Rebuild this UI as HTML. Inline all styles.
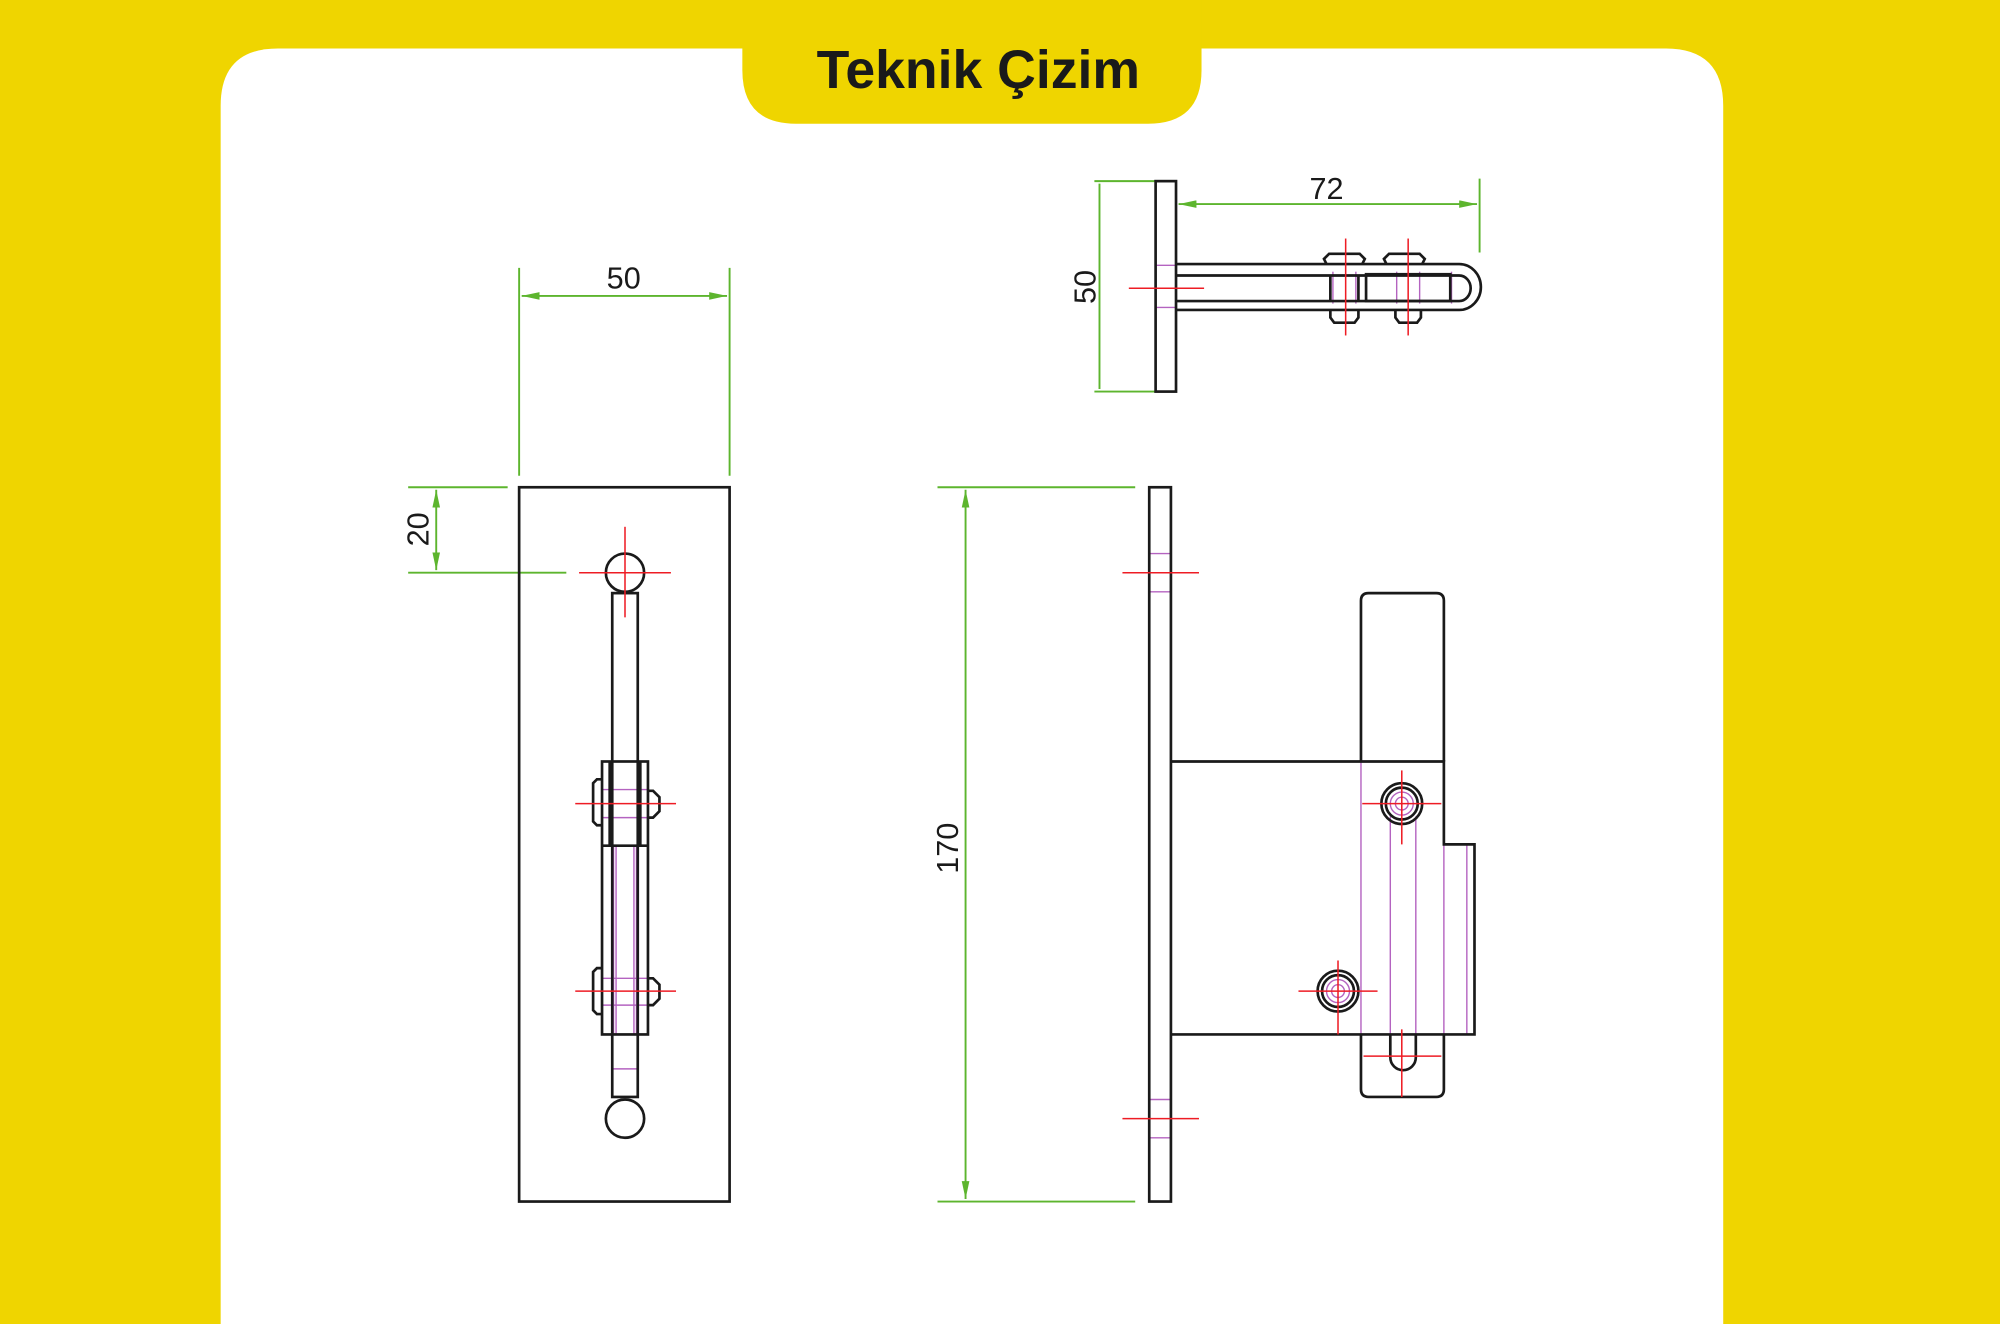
<!DOCTYPE html>
<html><head><meta charset="utf-8"><style>
html,body{margin:0;padding:0;background:#efd500;}
svg{display:block;}
</style></head><body>
<svg width="2000" height="1324" viewBox="0 0 1568 1038" xmlns="http://www.w3.org/2000/svg">
<defs>
<marker id="ar" viewBox="0 0 14 6" refX="14" refY="3" markerWidth="14" markerHeight="6" orient="auto-start-reverse" markerUnits="userSpaceOnUse"><path d="M0,0 L14,3 L0,6 z" fill="#5db52e"/></marker>
</defs>
<rect width="1568" height="1038" fill="#efd500"/>
<path d="M173,1038 V83 Q173,38 218,38 H1306 Q1351,38 1351,83 V1038 Z" fill="#fff"/>
<path d="M582,0 V55 Q582,97 624,97 H900 Q942,97 942,55 V0 Z" fill="#efd500"/>
<text x="767" y="69" text-anchor="middle" font-family="Liberation Sans, sans-serif" font-weight="bold" font-size="42" fill="#1a1a1a">Teknik Çizim</text>

<g fill="none" stroke-width="1.5">
<g stroke="#5db52e">
<line x1="407" y1="210" x2="407" y2="373"/><line x1="572" y1="210" x2="572" y2="373"/>
<line x1="409" y1="232" x2="570" y2="232" marker-start="url(#ar)" marker-end="url(#ar)"/>
<line x1="320" y1="382" x2="398" y2="382"/><line x1="320" y1="449" x2="444" y2="449"/>
<line x1="342" y1="384" x2="342" y2="447" marker-start="url(#ar)" marker-end="url(#ar)"/>
<line x1="858" y1="142" x2="906" y2="142"/><line x1="858" y1="307" x2="906" y2="307"/>
<line x1="862" y1="144" x2="862" y2="305"/>
<line x1="922" y1="145" x2="922" y2="185"/>
<line x1="1160" y1="140" x2="1160" y2="198"/>
<line x1="924" y1="160" x2="1158" y2="160" marker-start="url(#ar)" marker-end="url(#ar)"/>
<line x1="735" y1="382" x2="890" y2="382"/><line x1="735" y1="942" x2="890" y2="942"/>
<line x1="757" y1="384" x2="757" y2="940" marker-start="url(#ar)" marker-end="url(#ar)"/>
</g>

<g stroke="#b463c0" stroke-width="1.1">
<line x1="472" y1="619" x2="508" y2="619"/><line x1="472" y1="641" x2="508" y2="641"/>
<line x1="472" y1="767" x2="508" y2="767"/><line x1="472" y1="788" x2="508" y2="788"/>
<line x1="481" y1="663" x2="481" y2="811"/><line x1="483" y1="663" x2="483" y2="811"/>
<line x1="497" y1="663" x2="497" y2="811"/><line x1="499" y1="663" x2="499" y2="811"/>
<line x1="481" y1="838" x2="499" y2="838"/>
<line x1="906" y1="208" x2="922" y2="208"/><line x1="906" y1="241" x2="922" y2="241"/>
<line x1="1045" y1="213" x2="1045" y2="238"/><line x1="1063" y1="213" x2="1063" y2="238"/>
<line x1="1095" y1="213" x2="1095" y2="238"/><line x1="1113" y1="213" x2="1113" y2="238"/>
<line x1="1138" y1="213" x2="1138" y2="238"/>
<line x1="901" y1="434" x2="918" y2="434"/><line x1="901" y1="464" x2="918" y2="464"/>
<line x1="901" y1="862" x2="918" y2="862"/><line x1="901" y1="892" x2="918" y2="892"/>
<line x1="1067" y1="597" x2="1067" y2="811"/>
<line x1="1090" y1="640" x2="1090" y2="811"/><line x1="1110" y1="640" x2="1110" y2="811"/>
<line x1="1132" y1="662" x2="1132" y2="811"/><line x1="1150" y1="662" x2="1150" y2="811"/>
<circle cx="1099" cy="630" r="9"/><circle cx="1099" cy="630" r="5"/>
<circle cx="1049" cy="777" r="9"/><circle cx="1049" cy="777" r="5"/>
</g>

<g stroke="#1a1a1a" stroke-width="2.1">
<rect x="407" y="382" width="165" height="560"/>
<circle cx="490" cy="449" r="15"/><circle cx="490" cy="877" r="15"/>
<rect x="480" y="465" width="20" height="395"/>
<rect x="472" y="597" width="36" height="214"/>
<line x1="472" y1="663" x2="508" y2="663"/>
<line x1="478" y1="597" x2="478" y2="663"/><line x1="502" y1="597" x2="502" y2="663"/>
<path d="M472,611 H468 L465,614 V644 L468,647 H472"/>
<path d="M508,620 H512 L517,625 V636 L512,641 H508"/>
<path d="M472,759 H468 L465,762 V792 L468,795 H472"/>
<path d="M508,767 H512 L517,772 V783 L512,788 H508"/>

<rect x="906" y="142" width="16" height="165"/>
<path d="M922,207 H1144 A17,18 0 0 1 1144,243 H922"/>
<path d="M922,216 H1144 A9,10 0 0 1 1144,236 H922"/>
<rect x="1071" y="215" width="66" height="21"/>
<path d="M1040,207 L1038,203 L1042,199 H1066 L1070,203 L1068,207"/>
<path d="M1043,243 L1043,249 L1046,253 H1062 L1065,249 L1065,243"/>
<path d="M1087,207 L1085,203 L1089,199 H1113 L1117,203 L1115,207"/>
<path d="M1094,243 L1094,249 L1097,253 H1111 L1114,249 L1114,243"/>
<line x1="1043" y1="216" x2="1043" y2="236"/><line x1="1065" y1="216" x2="1065" y2="236"/>

<rect x="901" y="382" width="17" height="560"/>
<path d="M918,597 H1132 V662 H1156 V811 H918"/>
<path d="M1067,597 V471 Q1067,465 1073,465 H1126 Q1132,465 1132,471 V597"/>
<path d="M1067,811 V854 Q1067,860 1073,860 H1126 Q1132,860 1132,854 V811"/>
<path d="M1090,811 V829 A10,10 0 0 0 1110,829 V811"/>
<circle cx="1099" cy="630" r="16"/><circle cx="1099" cy="630" r="12.5"/>
<circle cx="1049" cy="777" r="16"/><circle cx="1049" cy="777" r="12.5"/>
</g>

<g stroke="#ee1c24" stroke-width="1.2">
<line x1="454" y1="449" x2="526" y2="449"/><line x1="490" y1="413" x2="490" y2="484"/>
<line x1="451" y1="630" x2="530" y2="630"/><line x1="451" y1="777" x2="530" y2="777"/>
<line x1="885" y1="226" x2="944" y2="226"/>
<line x1="1055" y1="187" x2="1055" y2="263"/><line x1="1104" y1="187" x2="1104" y2="263"/>
<line x1="880" y1="449" x2="940" y2="449"/><line x1="880" y1="877" x2="940" y2="877"/>
<line x1="1068" y1="630" x2="1130" y2="630"/><line x1="1099" y1="604" x2="1099" y2="662"/>
<line x1="1018" y1="777" x2="1080" y2="777"/><line x1="1049" y1="753" x2="1049" y2="811"/>
<line x1="1069" y1="828" x2="1130" y2="828"/><line x1="1099" y1="807" x2="1099" y2="860"/>
</g>
</g>

<g font-family="Liberation Sans, sans-serif" font-size="24" fill="#1a1a1a">
<text x="489" y="226" text-anchor="middle">50</text>
<text x="1040" y="156" text-anchor="middle">72</text>
<text transform="translate(336,415) rotate(-90)" text-anchor="middle">20</text>
<text transform="translate(859,225) rotate(-90)" text-anchor="middle">50</text>
<text transform="translate(751,665) rotate(-90)" text-anchor="middle">170</text>
</g>
</svg>
</body></html>
